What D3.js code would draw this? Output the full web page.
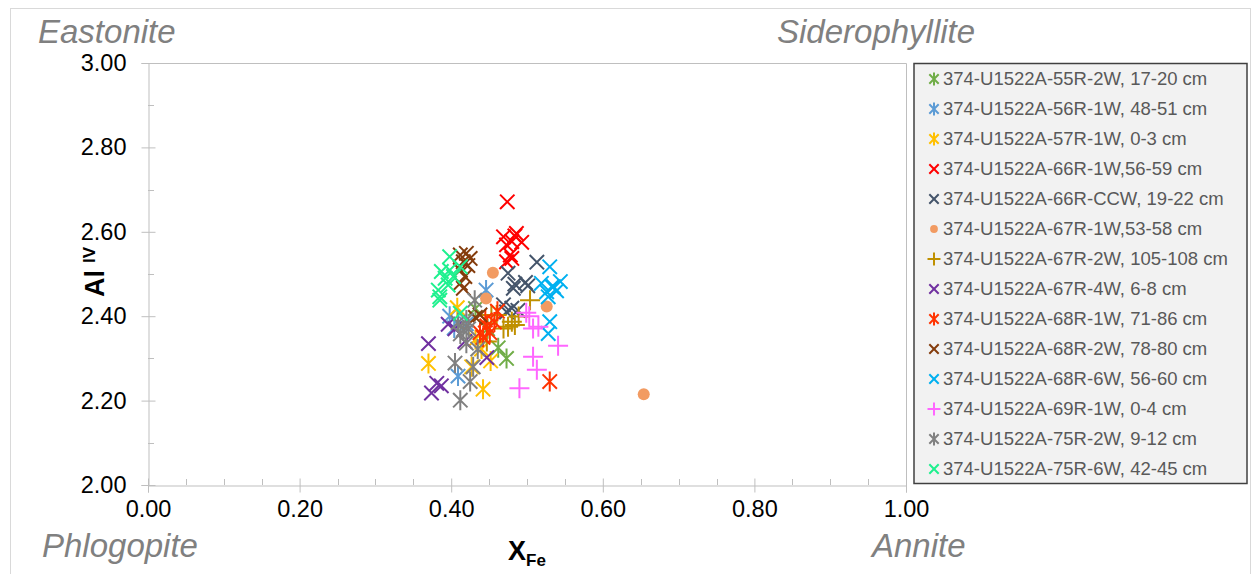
<!DOCTYPE html>
<html>
<head>
<meta charset="utf-8">
<script src="https://cdn.jsdelivr.net/npm/d3@7"></script>
<style>
  body { margin: 0; background: #fff; }
  svg { display: block; font-family: Arial, "Liberation Sans", sans-serif; }
</style>
</head>
<body>
<svg id="chart" width="1252" height="574"></svg>
<script>
// values: [X_Fe, Al IV]
const s55R2W = [[0.462, 2.325], [0.473, 2.300], [0.432, 2.418], [0.448, 2.370]];
const s56R1W = [[0.446, 2.462], [0.409, 2.258], [0.398, 2.400], [0.404, 2.372], [0.420, 2.382]];
const s57R1W = [[0.370, 2.288], [0.442, 2.227], [0.427, 2.280], [0.452, 2.294], [0.440, 2.322], [0.408, 2.420], [0.432, 2.345]];
const s66R1W = [[0.474, 2.671], [0.469, 2.588], [0.486, 2.596], [0.480, 2.577], [0.493, 2.575], [0.473, 2.569], [0.478, 2.545], [0.473, 2.529], [0.480, 2.537], [0.484, 2.590]];
const s66RCCW = [[0.513, 2.528], [0.475, 2.502], [0.484, 2.476], [0.498, 2.480], [0.501, 2.472], [0.482, 2.466], [0.480, 2.419], [0.469, 2.427], [0.488, 2.414], [0.473, 2.410]];
const s67R1W = [[0.455, 2.503], [0.446, 2.442], [0.526, 2.423], [0.654, 2.215]];
const s67R2W = [[0.504, 2.438], [0.475, 2.375], [0.480, 2.387], [0.469, 2.371], [0.489, 2.399], [0.453, 2.403], [0.460, 2.403], [0.447, 2.340], [0.484, 2.379]];
const s67R4W = [[0.370, 2.335], [0.396, 2.381], [0.381, 2.241], [0.387, 2.235], [0.374, 2.218], [0.447, 2.302], [0.418, 2.340], [0.405, 2.370]];
const s68R1W = [[0.461, 2.412], [0.447, 2.377], [0.438, 2.361], [0.451, 2.361], [0.445, 2.391], [0.442, 2.350], [0.457, 2.386], [0.530, 2.245]];
const s68R2W = [[0.412, 2.545], [0.420, 2.549], [0.425, 2.537], [0.416, 2.529], [0.412, 2.509], [0.418, 2.494], [0.412, 2.478], [0.416, 2.466], [0.432, 2.397], [0.438, 2.403], [0.422, 2.520]];
const s68R6W = [[0.530, 2.517], [0.519, 2.478], [0.535, 2.470], [0.544, 2.482], [0.526, 2.458], [0.539, 2.460], [0.528, 2.446], [0.530, 2.387], [0.528, 2.359], [0.533, 2.470]];
const s69R1W = [[0.499, 2.408], [0.503, 2.400], [0.508, 2.371], [0.515, 2.375], [0.541, 2.330], [0.508, 2.304], [0.513, 2.273], [0.490, 2.229]];
const s75R2W = [[0.431, 2.438], [0.409, 2.385], [0.416, 2.368], [0.420, 2.391], [0.412, 2.358], [0.420, 2.336], [0.405, 2.289], [0.429, 2.280], [0.425, 2.245], [0.412, 2.201], [0.435, 2.322], [0.423, 2.370]];
const s75R6W = [[0.398, 2.541], [0.387, 2.506], [0.398, 2.509], [0.392, 2.490], [0.403, 2.494], [0.383, 2.462], [0.396, 2.474], [0.385, 2.446], [0.412, 2.517], [0.385, 2.438], [0.412, 2.407]];

const seriesNames = [
  '374-U1522A-55R-2W, 17-20 cm', '374-U1522A-56R-1W, 48-51 cm', '374-U1522A-57R-1W, 0-3 cm',
  '374-U1522A-66R-1W,56-59 cm', '374-U1522A-66R-CCW, 19-22 cm', '374-U1522A-67R-1W,53-58 cm',
  '374-U1522A-67R-2W, 105-108 cm', '374-U1522A-67R-4W, 6-8 cm', '374-U1522A-68R-1W, 71-86 cm',
  '374-U1522A-68R-2W, 78-80 cm', '374-U1522A-68R-6W, 56-60 cm', '374-U1522A-69R-1W, 0-4 cm',
  '374-U1522A-75R-2W, 9-12 cm', '374-U1522A-75R-6W, 42-45 cm'
];
const seriesValues = [s55R2W, s56R1W, s57R1W, s66R1W, s66RCCW, s67R1W, s67R2W, s67R4W, s68R1W, s68R2W, s68R6W, s69R1W, s75R2W, s75R6W];
const seriesColors = ['#70AD47', '#5B9BD5', '#FFC000', '#FF0000', '#44546A', '#F29B62', '#BF9000', '#7030A0', '#FF3300', '#843C0C', '#00B0F0', '#FF66FF', '#808080', '#1EF08E'];
const seriesMarkers = ['star', 'star', 'star', 'x', 'x', 'circle', 'plus', 'x', 'star', 'x', 'x', 'plus', 'star', 'x'];

const xTicks = [0, 0.2, 0.4, 0.6, 0.8, 1.0];
const yTicks = [2.0, 2.2, 2.4, 2.6, 2.8, 3.0];
const corners = [
  { text: 'Eastonite', x: 38, y: 43 },
  { text: 'Siderophyllite', x: 777, y: 43 },
  { text: 'Phlogopite', x: 42, y: 557 },
  { text: 'Annite', x: 872, y: 557 }
];

const svg = d3.select('#chart');

// outer chart frame
svg.append('rect')
  .attr('x', 10.5).attr('y', 8.5)
  .attr('width', 1240).attr('height', 570)
  .attr('fill', '#fff').attr('stroke', '#D9D9D9');

const x = d3.scaleLinear().domain([0, 1]).range([148, 906]);
const y = d3.scaleLinear().domain([2, 3]).range([485, 63]);

const axisColor = '#BFBFBF';

// plot area border (top + right)
svg.append('path')
  .attr('d', `M${x(0)},${y(3) + 0.5}H${x(1) + 0.5}V${y(2)}`)
  .attr('fill', 'none').attr('stroke', axisColor);

// minor ticks
const gMinor = svg.append('g').attr('stroke', axisColor);
gMinor.selectAll('.mx')
  .data(d3.range(0.05, 1.0001, 0.05).filter(v => Math.abs(v * 5 - Math.round(v * 5)) > 1e-6))
  .join('line')
    .attr('x1', d => Math.round(x(d)) + 0.5).attr('x2', d => Math.round(x(d)) + 0.5)
    .attr('y1', y(2)).attr('y2', y(2) - 6);
gMinor.selectAll('.my')
  .data([2.1, 2.3, 2.5, 2.7, 2.9])
  .join('line')
    .attr('y1', d => Math.round(y(d)) + 0.5).attr('y2', d => Math.round(y(d)) + 0.5)
    .attr('x1', x(0)).attr('x2', x(0) + 6);

// x axis
const xAxis = svg.append('g')
  .attr('transform', `translate(0,${y(2) + 0.5})`)
  .call(d3.axisBottom(x).tickValues(xTicks).tickFormat(d3.format('.2f')).tickSize(7).tickPadding(8));
xAxis.select('.domain').attr('stroke', axisColor);
xAxis.selectAll('.tick line').attr('stroke', axisColor).attr('y1', -7);
xAxis.selectAll('.tick text')
  .attr('fill', '#000').attr('font-size', 23.5).attr('font-family', 'Arial, "Liberation Sans", sans-serif');

// y axis
const yAxis = svg.append('g')
  .attr('transform', `translate(${x(0) + 0.5},0)`)
  .call(d3.axisLeft(y).tickValues(yTicks).tickFormat(d3.format('.2f')).tickSize(7).tickPadding(15));
yAxis.select('.domain').attr('stroke', axisColor);
yAxis.selectAll('.tick line').attr('stroke', axisColor).attr('x1', 7);
yAxis.selectAll('.tick text')
  .attr('fill', '#000').attr('font-size', 23.5).attr('font-family', 'Arial, "Liberation Sans", sans-serif');

// axis titles
const yTitle = svg.append('text')
  .attr('transform', 'translate(104,272) rotate(-90)')
  .attr('text-anchor', 'middle')
  .attr('font-weight', 'bold')
  .attr('font-size', 27)
  .attr('fill', '#000');
yTitle.append('tspan').text('Al');
yTitle.append('tspan').attr('dx', 7).attr('dy', -9).attr('font-size', 17).text('IV');

const xTitle = svg.append('text')
  .attr('x', 527).attr('y', 560)
  .attr('text-anchor', 'middle')
  .attr('font-weight', 'bold')
  .attr('font-size', 27)
  .attr('fill', '#000');
xTitle.append('tspan').text('X');
xTitle.append('tspan').attr('dy', 6).attr('font-size', 17).text('Fe');

// corner end-member labels
svg.selectAll('.corner')
  .data(corners)
  .join('text')
    .attr('class', 'corner')
    .attr('x', d => d.x).attr('y', d => d.y)
    .attr('font-size', 33)
    .attr('font-style', 'italic')
    .attr('fill', '#808080')
    .text(d => d.text);

// marker shapes
const markerPath = (type, r) => {
  const p = d3.path();
  const a = r * 0.72;
  if (type === 'x' || type === 'star') {
    p.moveTo(-a, -a); p.lineTo(a, a);
    p.moveTo(-a, a); p.lineTo(a, -a);
    if (type === 'star') { p.moveTo(0, -r); p.lineTo(0, r); }
  } else if (type === 'plus') {
    p.moveTo(-r, 0); p.lineTo(r, 0);
    p.moveTo(0, -r); p.lineTo(0, r);
  }
  return p.toString();
};

const drawMarker = (sel, type, color, r, sw) => {
  if (type === 'circle') {
    sel.append('circle').attr('r', r * 0.6).attr('fill', color);
  } else {
    sel.append('path')
      .attr('d', markerPath(type, r))
      .attr('fill', 'none')
      .attr('stroke', color)
      .attr('stroke-width', sw);
  }
};

// points
const gPts = svg.append('g');
seriesValues.forEach((vals, i) => {
  const gs = gPts.append('g');
  gs.selectAll('g')
    .data(vals)
    .join('g')
      .attr('transform', d => `translate(${x(d[0])},${y(d[1])})`)
      .each(function () { drawMarker(d3.select(this), seriesMarkers[i], seriesColors[i], 10, 2); });
});

// legend
const legend = svg.append('g');
legend.append('rect')
  .attr('x', 914).attr('y', 63.5)
  .attr('width', 333).attr('height', 420)
  .attr('fill', '#F2F2F2').attr('stroke', '#404040').attr('stroke-width', 1.5);

const legendY = d3.scalePoint().domain(seriesNames).range([79, 469]);
const items = legend.selectAll('.item')
  .data(seriesNames)
  .join('g')
    .attr('class', 'item')
    .attr('transform', d => `translate(0,${legendY(d)})`);
items.each(function (d, i) {
  const m = d3.select(this).append('g').attr('transform', 'translate(934,0)');
  drawMarker(m, seriesMarkers[i], seriesColors[i], 6.5, 2);
});
items.append('text')
  .attr('x', 943).attr('y', 0).attr('dy', '0.35em')
  .attr('font-size', 18.5)
  .attr('fill', '#595959')
  .text(d => d);
</script>
</body>
</html>
